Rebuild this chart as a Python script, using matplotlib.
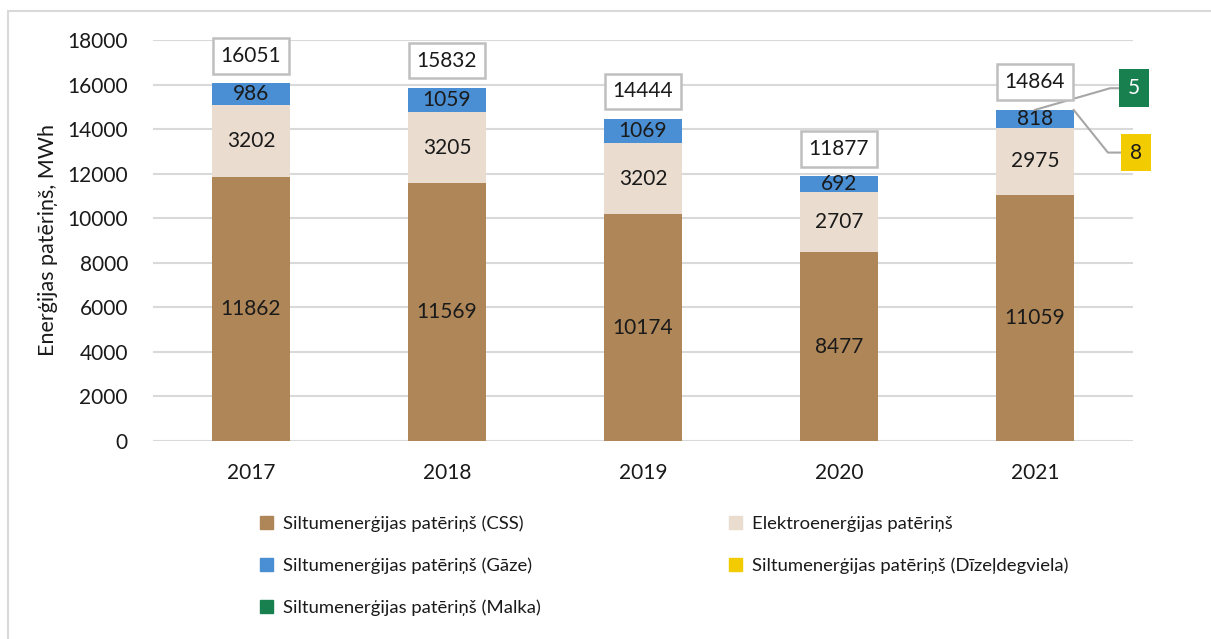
import numpy as np
import matplotlib.pyplot as plt
from matplotlib.patches import Rectangle, Patch

plt.rcParams['font.family'] = ['Lato', 'DejaVu Sans']

years = ['2017', '2018', '2019', '2020', '2021']
css = [11862, 11569, 10174, 8477, 11059]
elektro = [3202, 3205, 3202, 2707, 2975]
gaze = [986, 1059, 1069, 692, 818]
dizel = [0, 0, 0, 0, 8]
malka = [0, 0, 0, 0, 5]
totals = [16051, 15832, 14444, 11877, 14864]

names = ['Siltumenerģijas patēriņš (CSS)', 'Elektroenerģijas patēriņš',
         'Siltumenerģijas patēriņš (Gāze)', 'Siltumenerģijas patēriņš (Dīzeļdegviela)',
         'Siltumenerģijas patēriņš (Malka)']
colors = ['#AE8658', '#EADCCE', '#4A8ED3', '#F2CB00', '#17804E']

fs = 15      # numbers
fs_leg = 13.3
x = np.arange(len(years))
w = 0.395

fig = plt.figure(figsize=(12.11, 6.39), dpi=100)
ax = fig.add_axes([153/1211, 1-441/639, (1133-153)/1211, (441-40)/639])

series = [css, elektro, gaze, dizel, malka]
bottom = np.zeros(len(years))
for vals, c in zip(series, colors):
    ax.bar(x, vals, w, bottom=bottom, color=c, zorder=2)
    bottom += np.array(vals)

# labels inside segments
b = np.zeros(len(years))
for vals in [css, elektro, gaze]:
    v = np.array(vals)
    for i in range(len(years)):
        ax.text(x[i], b[i] + v[i] / 2, str(v[i]), ha='center', va='center',
                fontsize=fs, color='#1a1a1a', zorder=3)
    b += v

# total boxes
for i, t in enumerate(totals):
    ax.annotate(str(t), (x[i], t), xytext=(0, 20), textcoords='offset points',
                ha='center', va='center', fontsize=fs, color='#1a1a1a',
                bbox=dict(boxstyle='square,pad=0.38', fc='white', ec='#BFBFBF', lw=1.8),
                zorder=4)

# callouts for small segments in 2021
top = totals[4]
ax.plot([4.0, 4.383, 4.434], [top, 15835, 15835], color='#A6A6A6', lw=1.5,
        clip_on=False, zorder=3)
ax.text(4.505, 15835, str(malka[4]), ha='center', va='center', fontsize=fs,
        color='white', bbox=dict(boxstyle='square,pad=0.42', fc=colors[4], ec='none'),
        clip_on=False, zorder=4)
ax.plot([4.0 + w / 2, 4.372, 4.444], [top - malka[4], 12947, 12947], color='#A6A6A6',
        lw=1.5, clip_on=False, zorder=3)
ax.text(4.515, 12947, str(dizel[4]), ha='center', va='center', fontsize=fs,
        color='#1a1a1a', bbox=dict(boxstyle='square,pad=0.42', fc=colors[3], ec='none'),
        clip_on=False, zorder=4)

ax.set_xlim(-0.5, 4.5)
ax.set_ylim(0, 18000)
ax.set_yticks(np.arange(0, 18001, 2000))
ax.set_xticks(x)
ax.set_xticklabels(years)
ax.tick_params(axis='both', length=0, labelsize=fs, colors='#1a1a1a')
ax.tick_params(axis='y', pad=18)
ax.tick_params(axis='x', pad=16)
ax.yaxis.grid(True, color='#D9D9D9', lw=1.5, zorder=0)
ax.set_axisbelow(True)
for s in ax.spines.values():
    s.set_visible(False)
ax.set_ylabel('Enerģijas patēriņš, MWh', fontsize=15.5, color='#1a1a1a', labelpad=7)

handles = [Patch(color=colors[k]) for k in [0, 2, 4, 1, 3]]
labels = [names[k] for k in [0, 2, 4, 1, 3]]
fig.legend(handles, labels, loc='upper left', bbox_to_anchor=(243/1211, 1-499/639),
           ncol=2, frameon=False, fontsize=fs_leg, handlelength=0.7, handleheight=0.7,
           handletextpad=0.55, columnspacing=10.2, labelspacing=1.38, labelcolor='#1a1a1a')

fig.patches.append(Rectangle((8/1211, -0.1), 1.2, 1 - 11/639 + 0.1, transform=fig.transFigure,
                             fill=False, ec='#D9D9D9', lw=1.5))

fig.savefig('out.png', dpi=100)
